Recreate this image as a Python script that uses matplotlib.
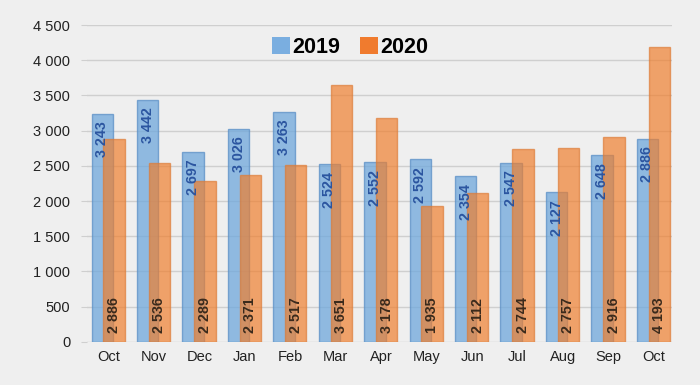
import matplotlib
matplotlib.use("Agg")
import matplotlib.pyplot as plt
import numpy as np
from matplotlib.patches import Patch

months = ["Oct", "Nov", "Dec", "Jan", "Feb", "Mar", "Apr", "May", "Jun", "Jul", "Aug", "Sep", "Oct"]
vals_2019 = [3243, 3442, 2697, 3026, 3263, 2524, 2552, 2592, 2354, 2547, 2127, 2648, 2886]
vals_2020 = [2886, 2536, 2289, 2371, 2517, 3651, 3178, 1935, 2112, 2744, 2757, 2916, 4193]
yticks = [0, 500, 1000, 1500, 2000, 2500, 3000, 3500, 4000, 4500]

def fmt(v):
    return f"{v:,}".replace(",", " ")

bg = "#efefef"
plt.rcParams['font.family'] = ['Liberation Sans', 'DejaVu Sans']
fig = plt.figure(figsize=(7, 3.85), dpi=100, facecolor=bg)
ax = fig.add_axes([0.124, 0.112, 0.836, 0.823], facecolor=bg)

x = np.arange(len(months))
w = 0.47
off = 0.24
blue = "#6fa8dc"
orange = "#f07d2a"
ax.bar(x - off / 2 - 0.02, vals_2019, w, color=blue, alpha=0.75, edgecolor="#5a8fc6", linewidth=1.0, zorder=3)
ax.bar(x + off / 2, vals_2020, w, color=orange, alpha=0.68, edgecolor="#dd7a35", linewidth=1.0, zorder=4)

for xi, v in zip(x, vals_2019):
    ax.text(xi - off / 2 - 0.02, v - 110, fmt(v), rotation=90, ha="center", va="top",
            fontsize=10.3, fontweight="bold", color="#2b55a0", zorder=5)
for xi, v in zip(x, vals_2020):
    ax.text(xi + off / 2, 130, fmt(v), rotation=90, ha="center", va="bottom",
            fontsize=10.3, fontweight="bold", color="#3a2a1c", zorder=5)

ax.set_xlim(-0.48, 12.4)
ax.set_ylim(0, 4500)
ax.set_yticks(yticks)
ax.set_yticklabels([fmt(t) for t in yticks])
ax.set_xticks(x)
ax.set_xticklabels(months)
ax.grid(axis="y", color="#cfcfcf", linewidth=1.0, zorder=0)
for s in ax.spines.values():
    s.set_visible(False)
ax.tick_params(axis="y", length=4, color="#cfcfcf", labelsize=10.5, labelcolor="#222222", pad=8)
ax.tick_params(axis="x", length=0, labelsize=10.5, labelcolor="#222222", pad=6)

handles = [Patch(facecolor="#7aaee0", label="2019"), Patch(facecolor="#f07b2e", label="2020")]
ax.legend(handles=handles, loc="center", bbox_to_anchor=(0.45, 0.93), ncol=2, frameon=False,
          prop={"size": 15.5, "weight": "bold"}, handlelength=0.85, handleheight=0.85,
          handletextpad=0.1, columnspacing=0.9, facecolor=bg)

fig.savefig("out.png", dpi=100, facecolor=bg)
